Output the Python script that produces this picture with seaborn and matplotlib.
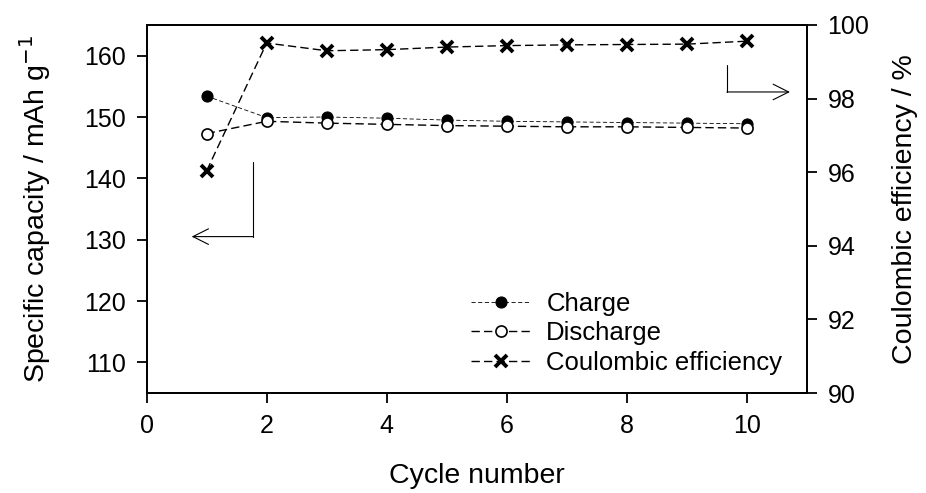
import matplotlib
matplotlib.use("Agg")
import matplotlib.pyplot as plt
import seaborn as sns
import pandas as pd

cycles = [1, 2, 3, 4, 5, 6, 7, 8, 9, 10]
charge = [153.4, 149.9, 150.0, 149.8, 149.5, 149.3, 149.2, 149.1, 149.0, 148.9]
discharge = [147.3, 149.3, 149.0, 148.8, 148.6, 148.5, 148.4, 148.4, 148.3, 148.2]
coulombic = [96.04, 99.51, 99.3, 99.33, 99.4, 99.44, 99.46, 99.47, 99.48, 99.56]

sns.set_style("ticks")
plt.rcParams["font.family"] = ["Liberation Sans", "DejaVu Sans"]
for key in ("text.color", "axes.labelcolor", "xtick.color", "ytick.color",
            "axes.edgecolor"):
    plt.rcParams[key] = "black"

df = pd.DataFrame({"cycle": cycles, "charge": charge,
                   "discharge": discharge, "ce": coulombic})

fig, ax = plt.subplots(figsize=(9.26, 4.93), dpi=100)
ax2 = ax.twinx()

sns.lineplot(data=df, x="cycle", y="charge", ax=ax, color="black",
             linestyle=(0, (5, 3)), linewidth=0.6, marker="o", markersize=8,
             markerfacecolor="black", markeredgecolor="black", label="Charge",
             legend=False)
sns.lineplot(data=df, x="cycle", y="discharge", ax=ax, color="black",
             linestyle=(0, (6, 3)), linewidth=1.0, marker="o", markersize=8,
             markerfacecolor="white", markeredgecolor="black",
             markeredgewidth=1.2, label="Discharge", legend=False)
sns.lineplot(data=df, x="cycle", y="ce", ax=ax2, color="black",
             linestyle=(0, (6, 3)), linewidth=1.0, marker="x", markersize=8,
             markeredgecolor="black", markeredgewidth=2.8,
             label="Coulombic efficiency", legend=False)

ax.set_xlim(0, 11)
ax.set_ylim(105, 165)
ax2.set_ylim(90, 100)
ax.set_xticks([0, 2, 4, 6, 8, 10])
ax.set_yticks([110, 120, 130, 140, 150, 160])
ax2.set_yticks([90, 92, 94, 96, 98, 100])

ax.set_xlabel("Cycle number", fontsize=20.5, labelpad=18)
ax.set_ylabel("Specific capacity / mAh g$^{-1}$", fontsize=20.5, labelpad=22)
ax2.set_ylabel("Coulombic efficiency / %", fontsize=20.5, labelpad=16)

for a in (ax, ax2):
    a.tick_params(direction="out", length=7, width=1.3, labelsize=18, pad=8)
    for s in a.spines.values():
        s.set_linewidth(1.3)
        s.set_visible(True)

# direction arrows
ax.plot([1.77, 1.77], [142.6, 130.5], color="black", linewidth=0.8)
ax.annotate("", xy=(0.75, 130.5), xytext=(1.77, 130.5),
            arrowprops=dict(arrowstyle="->", color="black", lw=0.8,
                            mutation_scale=28, shrinkA=0, shrinkB=0))
ax2.plot([9.67, 9.67], [98.9, 98.18], color="black", linewidth=0.8)
ax2.annotate("", xy=(10.72, 98.18), xytext=(9.67, 98.18),
             arrowprops=dict(arrowstyle="->", color="black", lw=0.8,
                             mutation_scale=28, shrinkA=0, shrinkB=0))

h1, l1 = ax.get_legend_handles_labels()
h2, l2 = ax2.get_legend_handles_labels()
ax2.legend(h1 + h2, l1 + l2, loc="lower right", frameon=False, fontsize=18.5,
           bbox_to_anchor=(0.998, -0.014), handlelength=2.33, labelspacing=0.22,
           handletextpad=0.6)

plt.subplots_adjust(left=0.1584, right=0.8712, top=0.9493, bottom=0.2028)
fig.savefig("out.png", dpi=100)
